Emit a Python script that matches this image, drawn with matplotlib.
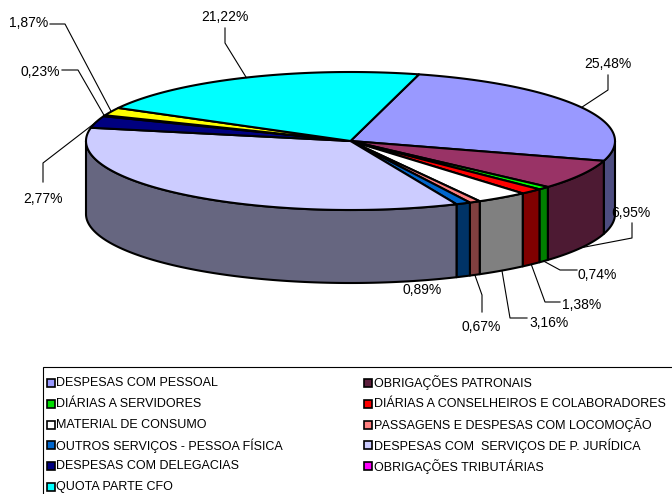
import numpy as np
import matplotlib.pyplot as plt
from matplotlib.patches import Polygon, Rectangle
from matplotlib.colors import to_rgb

plt.rcParams['font.family'] = ['Liberation Sans', 'DejaVu Sans']

# slices in drawing order (clockwise from the top)
categories = [
    'DESPESAS COM PESSOAL',
    'OBRIGAÇÕES PATRONAIS',
    'DIÁRIAS A SERVIDORES',
    'DIÁRIAS A CONSELHEIROS E COLABORADORES',
    'MATERIAL DE CONSUMO',
    'PASSAGENS E DESPESAS COM LOCOMOÇÃO',
    'OUTROS SERVIÇOS - PESSOA FÍSICA',
    'DESPESAS COM  SERVIÇOS DE P. JURÍDICA',
    'DESPESAS COM DELEGACIAS',
    'OBRIGAÇÕES TRIBUTÁRIAS',
    'OUTROS',
    'QUOTA PARTE CFO',
]
values = [25.48, 6.95, 0.74, 1.38, 3.16, 0.67, 0.89, 34.64, 2.77, 0.23, 1.87, 21.22]
colors = ['#9999FF', '#993366', '#00FF00', '#FF0000', '#FFFFFF', '#FF8080',
          '#0066CC', '#CCCCFF', '#000080', '#FF00FF', '#FFFF00', '#00FFFF']
legend_colors = ['#9999FF', '#5C1F3D', '#00DD00', '#FF0000', '#FFFFFF', '#FF8080',
                 '#0066CC', '#CCCCFF', '#000080', '#FF00FF', None, '#00FFFF']
show_label = [True] * 7 + [False] + [True] * 4

# label layout: (text x, text y, ha, leader points from text to pie)
label_layout = {
    0: (608, 64, 'center', [(608, 75), (608, 90)]),
    1: (631, 213, 'center', [(632, 223), (632, 238)]),
    2: (578, 275, 'left', [(577, 270), (560, 270)]),
    3: (562, 305, 'left', [(560, 302), (545, 302)]),
    4: (529, 323, 'left', [(527, 318), (510, 318)]),
    5: (481, 327, 'center', [(482, 312), (482, 295)]),
    6: (422, 290, 'center', []),
    8: (43, 199, 'center', [(43, 182), (43, 163)]),
    9: (40, 72, 'center', [(62, 70), (78, 70)]),
    10: (29, 23, 'center', [(50, 24), (65, 24)]),
    11: (225, 17, 'center', [(225, 28), (225, 43)]),
}

fig = plt.figure(figsize=(6.72, 4.94), dpi=100)
ax = fig.add_axes([0, 0, 1, 1])
ax.set_xlim(0, 672)
ax.set_ylim(494, 0)
ax.axis('off')

cx, cy, rx, ry, depth = 350.5, 141, 264.5, 69, 73
start = 15.0


def ell(t, dy=0):
    t = np.radians(t)
    return cx + rx * np.sin(t), cy - ry * np.cos(t) + dy


def arc(t0, t1, dy=0):
    n = max(2, int(abs(t1 - t0) * 2))
    ts = np.linspace(t0, t1, n)
    xs, ys = ell(ts, dy)
    return list(zip(xs, ys))


def darker(c):
    r, g, b = to_rgb(c)
    return (r * 0.5, g * 0.5, b * 0.5)


edges = np.concatenate([[0], np.cumsum(values)]) / sum(values) * 360 + start

# side walls (front half only)
for i, c in enumerate(colors):
    a0, a1 = max(edges[i], 90), min(edges[i + 1], 270)
    if a1 <= a0:
        continue
    pts = arc(a0, a1) + arc(a1, a0, depth)
    ax.add_patch(Polygon(pts, closed=True, facecolor=darker(c), edgecolor='black',
                         lw=1.5, joinstyle='round', zorder=1))

# top faces
for i, c in enumerate(colors):
    pts = [(cx, cy)] + arc(edges[i], edges[i + 1])
    ax.add_patch(Polygon(pts, closed=True, facecolor=c, edgecolor='black',
                         lw=1.5, joinstyle='round', zorder=2))

# labels
for i, v in enumerate(values):
    if not show_label[i]:
        continue
    tx, ty, ha, route = label_layout[i]
    mid = (edges[i] + edges[i + 1]) / 2
    front = 90 < mid < 270
    anchor = ell(mid, depth if front else 0)
    if route:
        xs = [p[0] for p in route] + [anchor[0]]
        ys = [p[1] for p in route] + [anchor[1]]
        ax.plot(xs, ys, color='black', lw=0.8, zorder=3)
    ax.text(tx, ty, f'{v:.2f}'.replace('.', ',') + '%', ha=ha, va='center',
            fontsize=10, color='black', zorder=4)

# legend
ax.add_patch(Rectangle((43, 367), 640, 140, facecolor='white', edgecolor='black',
                       lw=0.8, zorder=5))
entries = [(n, lc) for n, lc in zip(categories, legend_colors) if lc is not None]
for k, (name, lc) in enumerate(entries):
    row, col = divmod(k, 2)
    x0 = 47 if col == 0 else 364
    y0 = 383 + row * 20.8
    ax.add_patch(Rectangle((x0, y0 - 4), 8, 8, facecolor=lc, edgecolor='black',
                           lw=1.2, zorder=6))
    ax.text(x0 + 9.5, y0, name, ha='left', va='center', fontsize=9, zorder=6)

fig.savefig('out.png', dpi=100)
